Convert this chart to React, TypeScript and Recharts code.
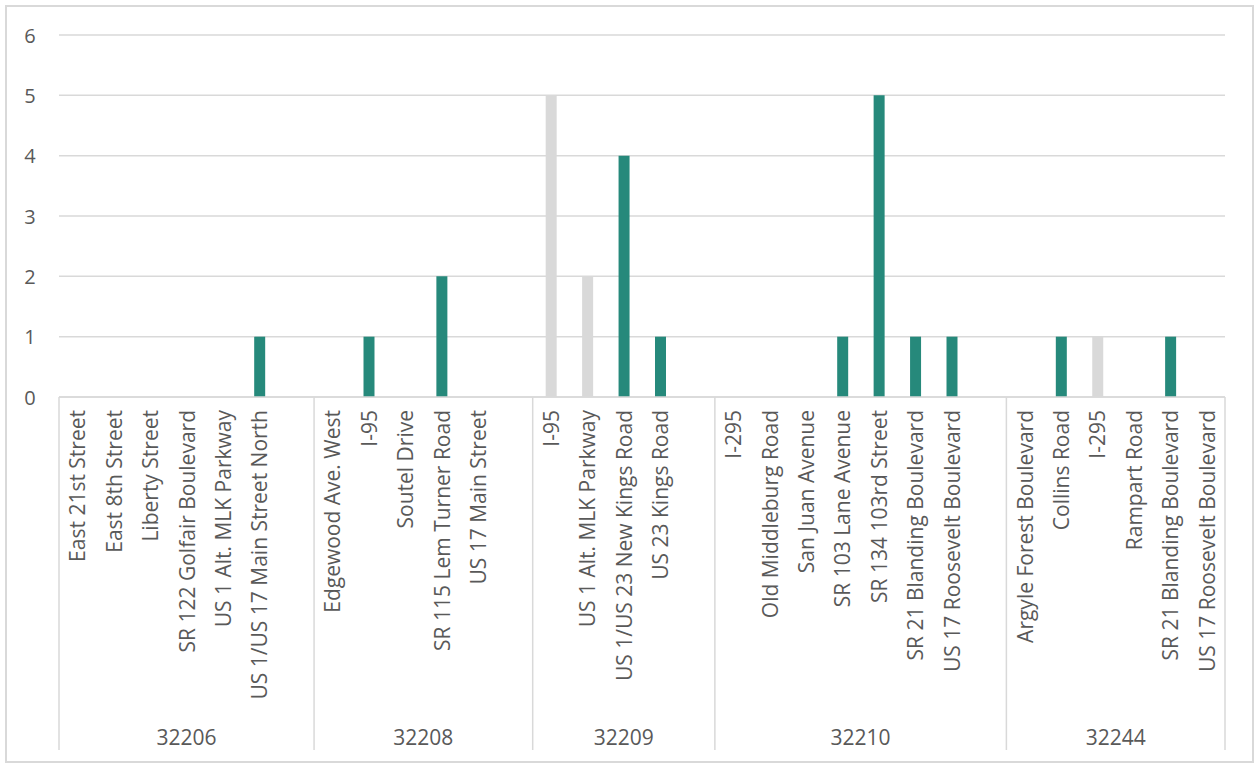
import React from 'react';
import { BarChart, Bar, XAxis, YAxis, CartesianGrid } from 'recharts';

// Road names grouped by zip code; '' marks the empty spacer row Excel leaves at the end of a group
const zipCodes = ['32206', '32208', '32209', '32210', '32244'];

const roadsByZip: string[][] = [
  ['East 21st Street', 'East 8th Street', 'Liberty Street', 'SR 122 Golfair Boulevard', 'US 1 Alt. MLK Parkway', 'US 1/US 17 Main Street North', ''],
  ['Edgewood Ave. West', 'I-95', 'Soutel Drive', 'SR 115 Lem Turner Road', 'US 17 Main Street', ''],
  ['I-95', 'US 1 Alt. MLK Parkway', 'US 1/US 23 New Kings Road', 'US 23 Kings Road', ''],
  ['I-295', 'Old Middleburg Road', 'San Juan Avenue', 'SR 103 Lane Avenue', 'SR 134 103rd Street', 'SR 21 Blanding Boulevard', 'US 17 Roosevelt Boulevard', ''],
  ['Argyle Forest Boulevard', 'Collins Road', 'I-295', 'Rampart Road', 'SR 21 Blanding Boulevard', 'US 17 Roosevelt Boulevard'],
];

const tealCounts: number[][] = [
  [0, 0, 0, 0, 0, 1, 0],
  [0, 1, 0, 2, 0, 0],
  [0, 0, 4, 1, 0],
  [0, 0, 0, 1, 5, 1, 1, 0],
  [0, 1, 0, 0, 1, 0],
];

const greyCounts: number[][] = [
  [0, 0, 0, 0, 0, 0, 0],
  [0, 0, 0, 0, 0, 0],
  [5, 2, 0, 0, 0],
  [0, 0, 0, 0, 0, 0, 0, 0],
  [0, 0, 1, 0, 0, 0],
];

const yTicks = [0, 1, 2, 3, 4, 5, 6];

const TEAL = '#26897B';
const GREY = '#D9D9D9';
const TEXT = '#595959';
const FONT = '"Open Sans", sans-serif';
const FONT_SIZE = 21;

const CHART_W = 1256;
const CHART_H = 764;
const MARGIN = { top: 35, right: 31, bottom: 0, left: 0 };
const Y_AXIS_W = 59;
const X_AXIS_H = 367;
const PLOT_W = CHART_W - MARGIN.left - MARGIN.right - Y_AXIS_W;

const chartData = roadsByZip.flatMap((roads, g) =>
  roads.map((road, i) => ({
    key: `${zipCodes[g]}-${i}`,
    road,
    zip: zipCodes[g],
    posInGroup: i,
    groupSize: roads.length,
    grey: greyCounts[g][i],
    teal: tealCounts[g][i],
  }))
);

function CategoryTick(props: any) {
  const { x, y, payload, index } = props;
  const row = chartData[index];
  if (!row) return null;
  const half = payload?.offset || PLOT_W / chartData.length / 2;
  const band = half * 2;
  const axisTop = y - 8;
  const bottom = axisTop + 353;

  // group label sits in the middle of its group
  const groupStart = x - half - row.posInGroup * band;
  const groupCenter = groupStart + (row.groupSize * band) / 2;
  const isLastRow = index === chartData.length - 1;

  return (
    <g>
      {row.road && (
        <text
          x={x}
          y={axisTop + 13}
          transform={`rotate(-90, ${x}, ${axisTop + 13})`}
          textAnchor="end"
          dominantBaseline="central"
          fontSize={FONT_SIZE}
          fontFamily={FONT}
          fill={TEXT}
        >
          {row.road}
        </text>
      )}
      {row.posInGroup === 0 && (
        <>
          <line x1={x - half} x2={x - half} y1={axisTop} y2={bottom} stroke={GREY} strokeWidth={1.5} />
          <text
            x={groupCenter}
            y={axisTop + 340}
            textAnchor="middle"
            dominantBaseline="central"
            fontSize={FONT_SIZE}
            fontFamily={FONT}
            fill={TEXT}
          >
            {row.zip}
          </text>
        </>
      )}
      {isLastRow && (
        <line x1={x + half} x2={x + half} y1={axisTop} y2={bottom} stroke={GREY} strokeWidth={1.5} />
      )}
    </g>
  );
}

function ValueTick(props: any) {
  const { y, payload } = props;
  return (
    <text x={30} y={y} textAnchor="middle" dominantBaseline="central" fontSize={20} fontFamily={FONT} fill={TEXT}>
      {payload.value}
    </text>
  );
}

export default function App() {
  return (
    <div style={{ position: 'absolute', left: 0, top: 0, width: CHART_W, height: CHART_H, background: '#fff' }}>
      <div
        style={{
          position: 'absolute',
          left: 5,
          top: 5,
          width: 1249,
          height: 758,
          boxSizing: 'border-box',
          border: `2px solid ${GREY}`,
        }}
      />
      <BarChart
        width={CHART_W}
        height={CHART_H}
        data={chartData}
        margin={MARGIN}
        barSize={11}
        style={{ position: 'absolute', left: 0, top: 0 }}
      >
        <CartesianGrid vertical={false} stroke={GREY} strokeWidth={1.5} />
        <XAxis
          dataKey="key"
          interval={0}
          height={X_AXIS_H}
          tick={<CategoryTick />}
          tickLine={false}
          axisLine={{ stroke: GREY, strokeWidth: 1.5 }}
        />
        <YAxis
          width={Y_AXIS_W}
          domain={[0, 6]}
          ticks={yTicks}
          tick={<ValueTick />}
          tickLine={false}
          axisLine={false}
        />
        <Bar dataKey="grey" stackId="count" fill={GREY} isAnimationActive={false} />
        <Bar dataKey="teal" stackId="count" fill={TEAL} isAnimationActive={false} />
      </BarChart>
    </div>
  );
}
